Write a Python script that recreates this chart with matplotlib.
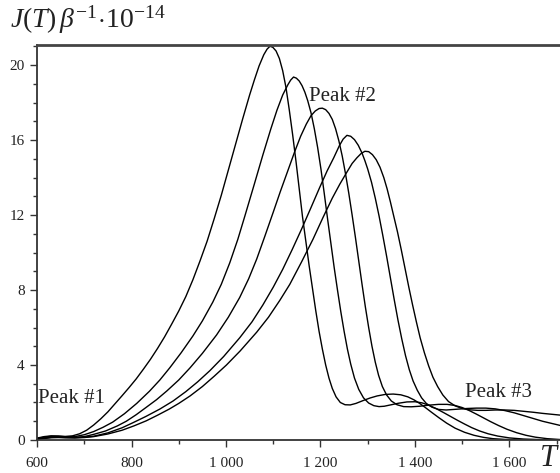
import matplotlib
matplotlib.use("Agg")
import matplotlib.pyplot as plt
from matplotlib.ticker import MultipleLocator, FuncFormatter

# temperature T and J(T) for the five curves
t1 = [600, 615, 630, 645, 660, 675, 690, 705, 720, 735, 750, 765, 780, 795, 810, 825, 840, 855, 870,
      885, 900, 915, 930, 945, 960, 975, 990, 1005, 1020, 1035, 1050, 1060, 1070, 1080, 1087, 1093,
      1099, 1106, 1113, 1120, 1127, 1134, 1141, 1148, 1155, 1162, 1169, 1176, 1183, 1190, 1197,
      1204, 1211, 1218, 1225, 1233, 1242, 1252, 1263, 1275, 1290, 1305, 1320, 1337, 1354, 1370,
      1385, 1398, 1410, 1422, 1435, 1450, 1467, 1485, 1505, 1525, 1545, 1565, 1590, 1620, 1660, 1710]
j1 = [0.10, 0.18, 0.22, 0.21, 0.19, 0.22, 0.33, 0.52, 0.8, 1.13, 1.5, 1.93, 2.36, 2.8, 3.26, 3.77, 4.3, 4.88, 5.5,
      6.18, 6.88, 7.65, 8.55, 9.55, 10.6, 11.8, 13.05, 14.4, 15.75, 17.1, 18.4, 19.2, 19.95, 20.55, 20.85, 21.0,
      20.95, 20.75, 20.35, 19.7, 18.8, 17.6, 16.3, 14.9, 13.4, 11.9, 10.6, 9.3, 8.1, 6.9, 5.8,
      4.85, 4.0, 3.3, 2.75, 2.3, 2.0, 1.88, 1.87, 1.95, 2.1, 2.24, 2.35, 2.43, 2.45, 2.41,
      2.3, 2.14, 1.95, 1.73, 1.48, 1.2, 0.9, 0.63, 0.41, 0.25, 0.14, 0.07, 0.03, 0.01, 0.0, 0.0]

t2 = [600, 615, 630, 645, 660, 680, 700, 720, 740, 760, 785, 811, 838, 860, 881, 905, 930, 950, 972,
      990, 1008, 1025, 1040, 1060, 1078, 1095, 1108, 1120, 1131, 1137, 1143, 1149, 1155, 1161, 1167,
      1173, 1180, 1187, 1194, 1201, 1208, 1215, 1222, 1229, 1236, 1243, 1250, 1257, 1264, 1272,
      1281, 1291, 1302, 1313, 1324, 1335, 1350, 1365, 1383, 1400, 1415, 1430, 1445, 1460, 1475,
      1490, 1505, 1520, 1537, 1555, 1575, 1600, 1630, 1670, 1710]
j2 = [0.08, 0.15, 0.2, 0.2, 0.17, 0.18, 0.28, 0.45, 0.68, 0.95, 1.4, 1.95, 2.6, 3.2, 3.85, 4.65, 5.55, 6.35, 7.35,
      8.3, 9.45, 10.7, 11.95, 13.65, 15.2, 16.6, 17.6, 18.4, 18.95, 19.2, 19.36, 19.3, 19.15, 18.9, 18.55,
      18.1, 17.45, 16.6, 15.6, 14.45, 13.15, 11.8, 10.5, 9.2, 8.0, 6.85, 5.8, 4.85, 4.05, 3.3,
      2.7, 2.25, 1.97, 1.83, 1.78, 1.8, 1.88, 1.96, 2.03, 2.04, 1.98, 1.85, 1.67, 1.47, 1.26,
      1.05, 0.85, 0.66, 0.48, 0.33, 0.21, 0.11, 0.05, 0.015, 0.0]

t3 = [600, 615, 630, 645, 660, 680, 700, 720, 745, 770, 789, 810, 830, 853, 875, 900, 924, 950, 980,
      1005, 1029, 1048, 1065, 1082, 1100, 1115, 1130, 1145, 1158, 1170, 1180, 1189, 1197, 1204,
      1211, 1218, 1225, 1232, 1239, 1246, 1253, 1260, 1267, 1274, 1281, 1288, 1295, 1302, 1309,
      1316, 1323, 1331, 1340, 1350, 1362, 1376, 1392, 1410, 1430, 1450, 1468, 1485, 1500, 1515,
      1530, 1545, 1560, 1577, 1595, 1615, 1635, 1655, 1680, 1710]
j3 = [0.06, 0.12, 0.16, 0.17, 0.15, 0.14, 0.18, 0.3, 0.48, 0.75, 1.0, 1.35, 1.72, 2.15, 2.62, 3.2, 3.85, 4.62, 5.6,
      6.55, 7.6, 8.6, 9.65, 10.85, 12.15, 13.25, 14.3, 15.35, 16.2, 16.85, 17.3, 17.55, 17.68, 17.7,
      17.62, 17.42, 17.1, 16.6, 15.95, 15.15, 14.2, 13.15, 12.0, 10.8, 9.55, 8.3, 7.1, 6.0, 5.0,
      4.15, 3.45, 2.85, 2.4, 2.08, 1.88, 1.78, 1.77, 1.8, 1.86, 1.9, 1.9, 1.84, 1.73, 1.57,
      1.38, 1.18, 0.98, 0.77, 0.57, 0.39, 0.25, 0.15, 0.07, 0.02]

t4 = [600, 615, 630, 645, 660, 680, 700, 720, 750, 780, 803, 830, 860, 888, 915, 940, 966, 995, 1029,
      1055, 1078, 1100, 1120, 1140, 1160, 1180, 1198, 1214, 1228, 1240, 1248, 1256, 1264, 1272,
      1280, 1288, 1294, 1300, 1308, 1316, 1324, 1332, 1340, 1348, 1356, 1364, 1372, 1380, 1388,
      1396, 1405, 1414, 1424, 1436, 1450, 1466, 1488, 1510, 1530, 1550, 1570, 1590, 1610, 1630,
      1650, 1670, 1690, 1710]
j4 = [0.05, 0.1, 0.14, 0.15, 0.13, 0.12, 0.15, 0.2, 0.38, 0.65, 0.92, 1.25, 1.65, 2.08, 2.58, 3.1, 3.7, 4.45, 5.45,
      6.3, 7.2, 8.15, 9.1, 10.15, 11.25, 12.4, 13.45, 14.35, 15.05, 15.7, 16.05, 16.25, 16.2, 16.02,
      15.72, 15.3, 14.9, 14.45, 13.75, 12.9, 11.95, 10.9, 9.8, 8.65, 7.5, 6.4, 5.4, 4.5, 3.75,
      3.15, 2.65, 2.25, 1.95, 1.75, 1.63, 1.6, 1.64, 1.68, 1.7, 1.7, 1.66, 1.57, 1.45, 1.3,
      1.15, 1.0, 0.88, 0.76]

t5 = [600, 615, 630, 645, 660, 680, 700, 720, 750, 780, 805, 831, 855, 880, 900, 924, 950, 975, 1001,
      1030, 1065, 1090, 1114, 1135, 1160, 1184, 1205, 1225, 1241, 1255, 1267, 1277, 1286, 1294,
      1302, 1310, 1318, 1326, 1334, 1341, 1348, 1355, 1363, 1371, 1379, 1387, 1395, 1403, 1411,
      1420, 1429, 1438, 1448, 1459, 1471, 1485, 1500, 1516, 1533, 1550, 1570, 1590, 1610, 1630,
      1650, 1670, 1690, 1710]
j5 = [0.04, 0.08, 0.12, 0.13, 0.12, 0.11, 0.13, 0.18, 0.32, 0.52, 0.75, 1.02, 1.32, 1.65, 1.95, 2.35, 2.85, 3.4, 4.0,
      4.75, 5.75, 6.55, 7.45, 8.3, 9.5, 10.7, 11.85, 12.9, 13.65, 14.25, 14.75, 15.05, 15.28, 15.4,
      15.38, 15.22, 14.95, 14.55, 14.0, 13.4, 12.7, 11.95, 11.1, 10.15, 9.15, 8.15, 7.2, 6.3, 5.45,
      4.65, 3.95, 3.35, 2.85, 2.4, 2.05, 1.82, 1.68, 1.61, 1.58, 1.58, 1.6, 1.6, 1.58, 1.53,
      1.48, 1.42, 1.37, 1.32]

curves = [(t1, j1), (t2, j2), (t3, j3), (t4, j4), (t5, j5)]

x_ticks = [600, 800, 1000, 1200, 1400, 1600]
y_ticks = [0, 4, 8, 12, 16, 20]

peak_labels = ["Peak #1", "Peak #2", "Peak #3"]
peak_pos = [(602, 2.2), (1175, 18.3), (1506, 2.55)]


def thousands(v, pos):
    return f"{int(v):,}".replace(",", " ")


def main():
    plt.rcParams["font.family"] = ["Liberation Serif", "DejaVu Serif"]
    plt.rcParams["mathtext.fontset"] = "custom"
    plt.rcParams["mathtext.rm"] = "Liberation Serif"
    plt.rcParams["mathtext.it"] = "Liberation Serif:italic"

    fig = plt.figure(figsize=(5.6, 4.73), dpi=100)
    ax = fig.add_axes([0.0661, 0.0698, 0.9339, 0.8351])

    for t, j in curves:
        ax.plot(t, j, color="black", lw=1.0)

    ax.set_xlim(600, 1707)
    ax.set_ylim(0, 21.07)

    ax.set_xticks(x_ticks)
    ax.set_yticks(y_ticks)
    ax.xaxis.set_major_formatter(FuncFormatter(thousands))
    ax.xaxis.set_minor_locator(MultipleLocator(100))
    ax.yaxis.set_minor_locator(MultipleLocator(1))
    ax.tick_params(which="major", direction="out", length=5, width=1.0, color="#333333",
                   labelsize=11, labelcolor="#222222", pad=4)
    ax.tick_params(which="minor", direction="out", length=3, width=1.0, color="#333333")
    ax.tick_params(axis="x", pad=7)

    ax.spines["right"].set_visible(False)
    for s in ["left", "bottom"]:
        ax.spines[s].set_color("#333333")
        ax.spines[s].set_linewidth(1.3)
    ax.spines["top"].set_color("#444444")
    ax.spines["top"].set_linewidth(2.0)

    for text, (x, y) in zip(peak_labels, peak_pos):
        ax.text(x, y, text, fontsize=15, color="#222222", ha="left", va="center")

    fig.text(10 / 560, 1 - 28 / 473, r"$J(T)\,\beta^{-1}\!\cdot\!10^{-14}$",
             fontsize=20, color="#222222", ha="left", va="baseline")
    fig.text(548 / 560, 1 - 458 / 473, "T", fontsize=22, style="italic",
             color="#222222", ha="center", va="center")

    fig.savefig("out.png", dpi=100)


if __name__ == "__main__":
    main()
